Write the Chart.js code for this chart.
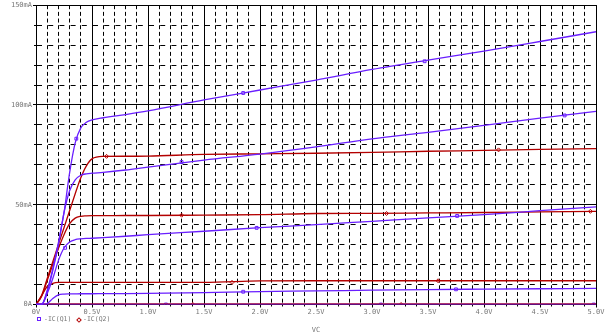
<!DOCTYPE html>
<html>
<head>
<meta charset="utf-8">
<title>IC(Q1), IC(Q2) vs VC</title>
<script src="https://cdn.jsdelivr.net/npm/chart.js@4.4.0/dist/chart.umd.min.js"></script>
<style>
  body { margin: 0; background: #fff; }
  #wrap { position: relative; width: 611px; height: 335px; }
  #legend span { position: absolute; font: 6.5px "DejaVu Sans Mono", monospace; color: #777; line-height: 7px; white-space: nowrap; }
  #legend .sq { left: 37px; top: 317px; width: 2px; height: 2px; border: 1px solid #6a1fff; }
  #legend .dm { left: 77px; top: 317.5px; width: 2px; height: 2px; border: 1px solid #b40000; transform: rotate(45deg); }
</style>
</head>
<body>
<div id="wrap">
  <canvas id="ivCurves" width="611" height="335"></canvas>
  <div id="legend">
    <span class="sq"></span><span style="left:44px;top:316px">-IC(Q1)</span>
    <span class="dm"></span><span style="left:83px;top:316px">-IC(Q2)</span>
  </div>
</div>
<script>
// collector voltage (V)
const vc = [0, 0.05, 0.1, 0.15, 0.2, 0.25, 0.3, 0.35, 0.4, 0.45, 0.5, 0.6, 0.8, 1.0, 1.5, 2.0, 2.5, 3.0, 3.5, 4.0, 4.5, 5.0];

// IC(Q1) in mA, one array per base step
const q1a = [0, 0, 7, 18, 31, 46, 66, 81, 88.5, 91.3, 92.5, 93.6, 95.2, 97, 102.5, 107.5, 112.5, 117.8, 122.5, 127, 131.8, 136.7];
const q1b = [0, 0, 6.5, 17, 30, 46, 57, 62.5, 64.8, 65.5, 65.8, 66.2, 67.4, 68.9, 72.4, 75.4, 79, 83, 86.3, 89.8, 93.4, 96.8];
const q1c = [0, 0, 5.5, 13, 22, 28.3, 31.3, 32.5, 32.9, 33.1, 33.2, 33.5, 34.2, 35, 36.7, 38.5, 40, 41.7, 43.4, 45, 47, 48.9];
const q1d = [0, 0, 0.5, 3, 4.8, 5.2, 5.3, 5.35, 5.4, 5.4, 5.4, 5.45, 5.5, 5.6, 6.0, 6.5, 6.8, 7.2, 7.5, 7.7, 7.9, 8.1];
const q1e = [0, 0, 0, 0, 0, 0, 0, 0, 0, 0, 0, 0, 0, 0, 0, 0, 0, 0, 0, 0, 0, 0];

// IC(Q2) in mA
const q2a = [0, 4.5, 13, 21.5, 30, 38.5, 47, 55.5, 63.5, 69.5, 73, 74.2, 74.3, 74.4, 75.2, 75.5, 75.8, 76.2, 76.8, 77.2, 77.7, 78.1];
const q2b = [0, 4, 12, 20, 28, 35, 40.5, 43.3, 44.2, 44.4, 44.5, 44.5, 44.6, 44.6, 44.8, 45.0, 45.6, 45.7, 45.9, 46.1, 46.4, 46.7];
const q2c = [0, 4.5, 9, 10.6, 11.1, 11.1, 11.1, 11.1, 11.1, 11.1, 11.1, 11.1, 11.1, 11.1, 11.1, 11.8, 11.9, 11.9, 11.9, 11.9, 11.9, 11.9];
const q2d = [0, 0, 0, 0, 0, 0, 0, 0, 0, 0, 0, 0, 0, 0, 0, 0, 0, 0, 0, 0, 0, 0];

// trace markers
const q1MarkV = [0.36, 1.85, 3.47, 1.30, 4.72, 0.26, 1.97, 3.76, 1.85, 3.75, 1.16, 3.08, 4.98];
const q1MarkI = [83.1, 106, 121.9, 71.4, 94.75, 28.4, 38.4, 44.4, 6.4, 7.6, 0, 0, 0];
const q2MarkV = [0.63, 4.13, 1.30, 3.13, 4.95, 1.75, 3.59, 1.40, 3.26];
const q2MarkI = [74.25, 77.5, 44.75, 45.6, 46.7, 11.1, 11.9, 0, 0];

const blue = '#6a1fff';
const red = '#b40000';
const tickFont = { family: 'DejaVu Sans Mono', size: 7 };

const toPts = (ys) => vc.map((v, k) => ({ x: v, y: ys[k] }));
const toMarks = (xs, ys) => xs.map((v, k) => ({ x: v, y: ys[k] }));

function curve(ys, color, width) {
    return {
        data: toPts(ys),
        showLine: true,
        borderColor: color,
        borderWidth: width || 1.3,
        pointRadius: 0,
        cubicInterpolationMode: 'monotone'
    };
}

function marks(xs, ys, color, style) {
    return {
        data: toMarks(xs, ys),
        showLine: false,
        pointStyle: style,
        pointRadius: 2,
        pointBorderWidth: 1,
        pointBorderColor: color,
        pointBackgroundColor: 'rgba(0,0,0,0)'
    };
}

// minor grid: fixed list of tick values, count steps of the given size
function minorTicks(step, count) {
    return (scale) => {
        const list = [];
        for (let k = 0; k <= count; k++) {
            list.push({ value: k * step });
        }
        scale.ticks = list;
    };
}

const ctx = document.getElementById('ivCurves').getContext('2d');

new Chart(ctx, {
    type: 'scatter',
    data: {
        datasets: [
            curve(q1a, blue), curve(q1b, blue), curve(q1c, blue), curve(q1d, blue), curve(q1e, blue),
            curve(q2a, red), curve(q2b, red), curve(q2c, red), curve(q2d, red, 2.5),
            marks(q1MarkV, q1MarkI, blue, 'rect'),
            marks(q2MarkV, q2MarkI, red, 'rectRot')
        ]
    },
    options: {
        responsive: false,
        animation: false,
        layout: { padding: { top: 4, right: 15, left: 0, bottom: 0 } },
        plugins: {
            legend: { display: false },
            tooltip: { enabled: false }
        },
        scales: {
            x: {
                type: 'linear',
                position: 'bottom',
                weight: 1,
                min: 0,
                max: 5,
                afterFit: (s) => { s.height = 30.5; },
                ticks: {
                    stepSize: 0.5,
                    autoSkip: false,
                    maxRotation: 0,
                    padding: 0,
                    color: '#777',
                    font: tickFont,
                    callback: (v) => v === 0 ? '0V' : v.toFixed(1) + 'V'
                },
                grid: { color: '#000', lineWidth: 1, tickLength: 3 },
                border: { color: '#000', width: 1 },
                title: {
                    display: true,
                    text: 'VC',
                    color: '#777',
                    font: tickFont,
                    padding: { top: 0, bottom: 1 }
                }
            },
            xMinor: {
                type: 'linear',
                position: 'bottom',
                weight: -1,
                min: 0,
                max: 5,
                afterFit: (s) => { s.height = 0; },
                afterBuildTicks: minorTicks(0.1, 50),
                ticks: { display: false },
                grid: { color: '#000', lineWidth: 1, tickLength: 2 },
                border: { display: false, dash: [4, 2.67] }
            },
            y: {
                type: 'linear',
                position: 'left',
                weight: 1,
                min: 0,
                max: 150,
                afterFit: (s) => { s.width = 36; },
                ticks: {
                    stepSize: 50,
                    padding: 1,
                    color: '#777',
                    font: tickFont,
                    callback: (v) => v === 0 ? '0A' : v + 'mA'
                },
                grid: { color: '#000', lineWidth: 1, tickLength: 3 },
                border: { color: '#000', width: 1 }
            },
            yMinor: {
                type: 'linear',
                position: 'left',
                weight: -1,
                min: 0,
                max: 150,
                afterFit: (s) => { s.width = 0; },
                afterBuildTicks: minorTicks(10, 15),
                ticks: { display: false },
                grid: { color: '#000', lineWidth: 1, tickLength: 2 },
                border: { display: false, dash: [5, 6.2], dashOffset: -1 }
            }
        }
    }
});
</script>
</body>
</html>
